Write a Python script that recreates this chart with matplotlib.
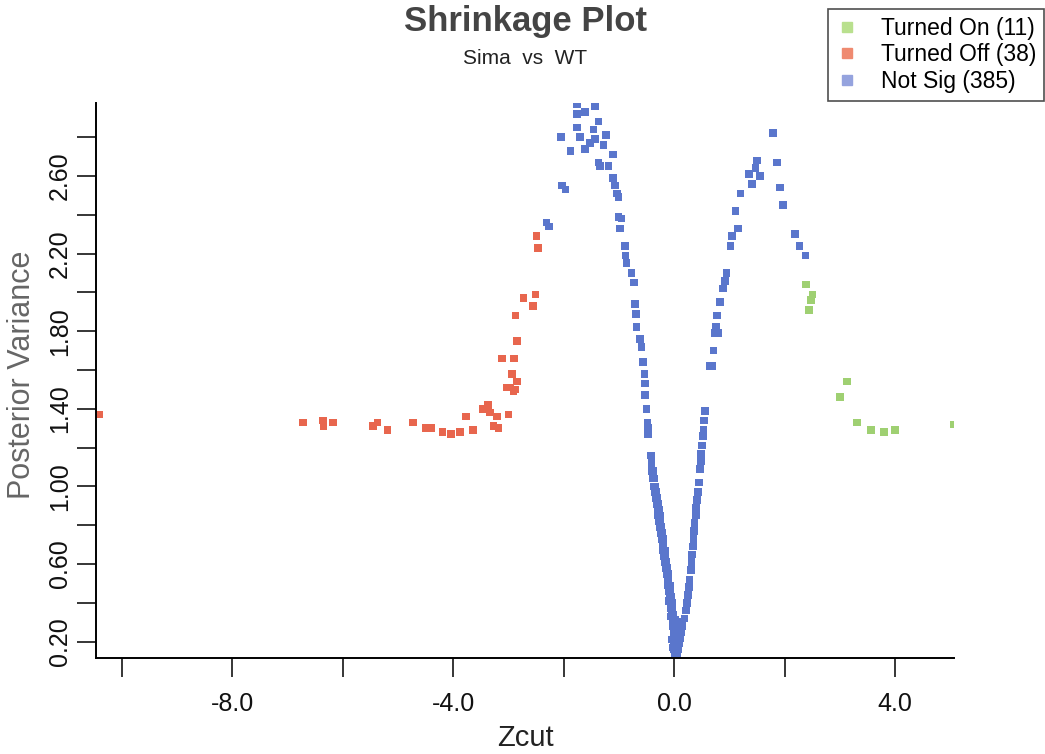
import matplotlib
matplotlib.use('Agg')
import matplotlib.pyplot as plt
from matplotlib.lines import Line2D
from matplotlib.ticker import FixedLocator, FormatStrFormatter

plt.rcParams['font.family'] = ['Liberation Sans', 'DejaVu Sans']

# Turned On (green)
on_x = [2.39, 2.48, 2.44, 2.50, 3.13, 3.00, 3.31, 3.56, 3.80, 4.00, 5.06]
on_y = [2.04, 1.96, 1.91, 1.99, 1.54, 1.46, 1.33, 1.29, 1.28, 1.29, 1.32]

# Turned Off (red)
off_x = [-10.40, -6.72, -6.36, -6.35, -6.17, -5.45, -5.37, -5.19, -4.73, -4.49,
         -4.39, -4.19, -4.04, -3.88, -3.64, -3.77, -3.47, -3.37, -3.33, -3.21,
         -3.27, -3.18, -3.00, -2.97, -2.88, -2.84, -3.03, -2.91, -2.93, -3.12,
         -2.90, -2.84, -2.87, -2.73, -2.56, -2.51, -2.49, -2.46]
off_y = [1.37, 1.33, 1.34, 1.31, 1.33, 1.31, 1.33, 1.29, 1.33, 1.30,
         1.30, 1.28, 1.27, 1.28, 1.29, 1.36, 1.40, 1.42, 1.38, 1.36,
         1.31, 1.30, 1.37, 1.51, 1.50, 1.54, 1.51, 1.49, 1.58, 1.66,
         1.66, 1.75, 1.88, 1.97, 1.93, 1.99, 2.29, 2.23]

# Not Sig (blue): left peak, V shape, right peak
ns_x = [-2.31, -2.27, -2.05, -2.03, -1.97, -1.88, -1.76, -1.76, -1.76, -1.70,
        -1.61, -1.61, -1.52, -1.46, -1.43, -1.43, -1.37, -1.37, -1.34, -1.28,
        -1.23, -1.19, -1.11, -1.11, -1.07, -1.04, -1.01, -1.01, -0.95, -0.98,
        -0.89, -0.88, -0.86, -0.77, -0.73, -0.71, -0.69, -0.68,
        -0.62, -0.59, -0.56, -0.54, -0.53, -0.53, -0.50, -0.48, -0.47, -0.47,
        -0.43, -0.41, -0.41, -0.40, -0.38, -0.38, -0.36, -0.36, -0.34, -0.35,
        -0.32, -0.33, -0.31, -0.32, -0.29, -0.30, -0.28, -0.29, -0.26, -0.27,
        -0.25, -0.26, -0.23, -0.24, -0.22, -0.23, -0.20, -0.21, -0.19, -0.20,
        -0.17, -0.18, -0.16, -0.17, -0.14, -0.15, -0.13, -0.14, -0.11, -0.12,
        -0.10, -0.11, -0.08, -0.10, -0.07, -0.08, -0.06, -0.07, -0.04, -0.06,
        -0.03, -0.04, -0.02, -0.03, -0.01, -0.02, 0.00, -0.01, 0.01, -0.01,
        0.02, 0.00, 0.02, 0.00, 0.03, 0.01, 0.03,
        -0.05, 0.05, 0.04, -0.03, 0.06, 0.07, -0.07, 0.09, 0.02, -0.09,
        0.53, 0.52, 0.50, 0.49, 0.48, 0.47, 0.45, 0.43, 0.42, 0.41,
        0.40, 0.39, 0.37, 0.36, 0.35, 0.35, 0.34, 0.32, 0.31, 0.30,
        0.28, 0.27, 0.25, 0.23, 0.21, 0.19, 0.15, 0.13, 0.11, 0.09,
        0.07, 0.05,
        0.54, 0.56, 0.65, 0.68, 0.71, 0.74, 0.79, 0.76, 0.77, 0.83,
        0.88, 0.92, 0.95, 1.02, 1.05, 1.15, 1.11, 1.20, 1.35, 1.41,
        1.47, 1.50, 1.55, 1.79, 1.86, 1.92, 1.97, 2.19, 2.27, 2.38]
ns_y = [2.36, 2.34, 2.80, 2.55, 2.53, 2.73, 2.97, 2.92, 2.85, 2.80,
        2.93, 2.74, 2.77, 2.84, 2.96, 2.79, 2.88, 2.67, 2.65, 2.76,
        2.81, 2.65, 2.71, 2.59, 2.55, 2.51, 2.49, 2.39, 2.38, 2.33,
        2.24, 2.19, 2.15, 2.10, 2.05, 1.94, 1.89, 1.82,
        1.76, 1.72, 1.64, 1.58, 1.53, 1.47, 1.40, 1.33, 1.30, 1.27,
        1.16, 1.16, 1.12, 1.08, 1.08, 1.04, 1.04, 1.00, 1.00, 0.97,
        0.97, 0.94, 0.94, 0.91, 0.91, 0.88, 0.88, 0.85, 0.85, 0.82,
        0.82, 0.79, 0.79, 0.76, 0.76, 0.73, 0.73, 0.70, 0.70, 0.67,
        0.67, 0.64, 0.64, 0.61, 0.61, 0.58, 0.58, 0.55, 0.55, 0.52,
        0.52, 0.49, 0.49, 0.46, 0.46, 0.43, 0.43, 0.40, 0.40, 0.37,
        0.37, 0.34, 0.34, 0.31, 0.31, 0.28, 0.28, 0.25, 0.25, 0.22,
        0.22, 0.19, 0.19, 0.16, 0.16, 0.14, 0.14,
        0.21, 0.20, 0.26, 0.17, 0.15, 0.24, 0.33, 0.30, 0.31, 0.41,
        1.29, 1.26, 1.21, 1.17, 1.13, 1.09, 1.02, 0.97, 0.93, 0.93,
        0.89, 0.85, 0.81, 0.77, 0.77, 0.73, 0.69, 0.65, 0.61, 0.57,
        0.52, 0.48, 0.44, 0.40, 0.36, 0.32, 0.28, 0.25, 0.22, 0.19,
        0.16, 0.14,
        1.34, 1.39, 1.62, 1.62, 1.70, 1.79, 1.79, 1.82, 1.88, 1.95,
        2.02, 2.06, 2.10, 2.24, 2.29, 2.33, 2.42, 2.51, 2.61, 2.56,
        2.64, 2.68, 2.60, 2.82, 2.67, 2.54, 2.45, 2.30, 2.24, 2.19]

labels = ['Turned On (11)', 'Turned Off (38)', 'Not Sig (385)']

fig = plt.figure(figsize=(10.45, 7.54), dpi=100)
ax = fig.add_axes([0.0916, 0.1269, 0.8216, 0.7365])

ax.scatter(ns_x, ns_y, marker='s', s=30, color='#5a76cc', edgecolors='none')
ax.scatter(off_x, off_y, marker='s', s=30, color='#e8664e', edgecolors='none')
ax.scatter(on_x, on_y, marker='s', s=30, color='#9fd072', edgecolors='none')

ax.set_xlim(-10.47, 5.07)
ax.set_ylim(0.114, 2.976)

for s in ['top', 'right']:
    ax.spines[s].set_visible(False)
for s in ['left', 'bottom']:
    ax.spines[s].set_linewidth(1.4)
    ax.spines[s].set_color('black')

ax.xaxis.set_major_locator(FixedLocator([-8, -4, 0, 4]))
ax.xaxis.set_minor_locator(FixedLocator([-10, -6, -2, 2]))
ax.yaxis.set_major_locator(FixedLocator([0.2, 0.6, 1.0, 1.4, 1.8, 2.2, 2.6]))
ax.yaxis.set_minor_locator(FixedLocator([0.4, 0.8, 1.2, 1.6, 2.0, 2.4, 2.8]))
ax.xaxis.set_major_formatter(FormatStrFormatter('%.1f'))
ax.yaxis.set_major_formatter(FormatStrFormatter('%.2f'))

ax.tick_params(which='both', direction='out', length=14, width=1.1, color='black')
ax.tick_params(axis='x', labelsize=18, pad=10, labelcolor='#111111')
ax.tick_params(axis='y', labelsize=18, pad=3, labelcolor='#111111', labelrotation=90)
for t in ax.get_yticklabels():
    t.set_va('center')

ax.set_xlabel('Zcut', fontsize=21, color='#222222')
ax.xaxis.set_label_coords(0.5, -0.118)
ax.set_ylabel('Posterior Variance', fontsize=22, color='#666666')
ax.yaxis.set_label_coords(-0.068, 0.51)

fig.text(0.503, 1 - 22 / 754, 'Shrinkage Plot', ha='center', va='center',
         fontsize=25, fontweight='bold', color='#444444')
fig.text(0.502, 1 - 58 / 754, 'Sima  vs  WT', ha='center', va='center',
         fontsize=15, color='#222222')

handles = [
    Line2D([], [], linestyle='none', marker='s', markersize=7, color='#b9e08e'),
    Line2D([], [], linestyle='none', marker='s', markersize=7, color='#ef8a70'),
    Line2D([], [], linestyle='none', marker='s', markersize=7, color='#95a3de'),
]
leg = fig.legend(handles, labels, loc='upper left', bbox_to_anchor=(828 / 1045, 1 - 9 / 754),
                 fontsize=16.5, frameon=True, fancybox=False, edgecolor='#222222',
                 borderpad=0.35, handlelength=1.0, handletextpad=0.95, labelspacing=0.15,
                 borderaxespad=0)
leg.get_frame().set_linewidth(1.2)

fig.savefig('out.png', dpi=100)
